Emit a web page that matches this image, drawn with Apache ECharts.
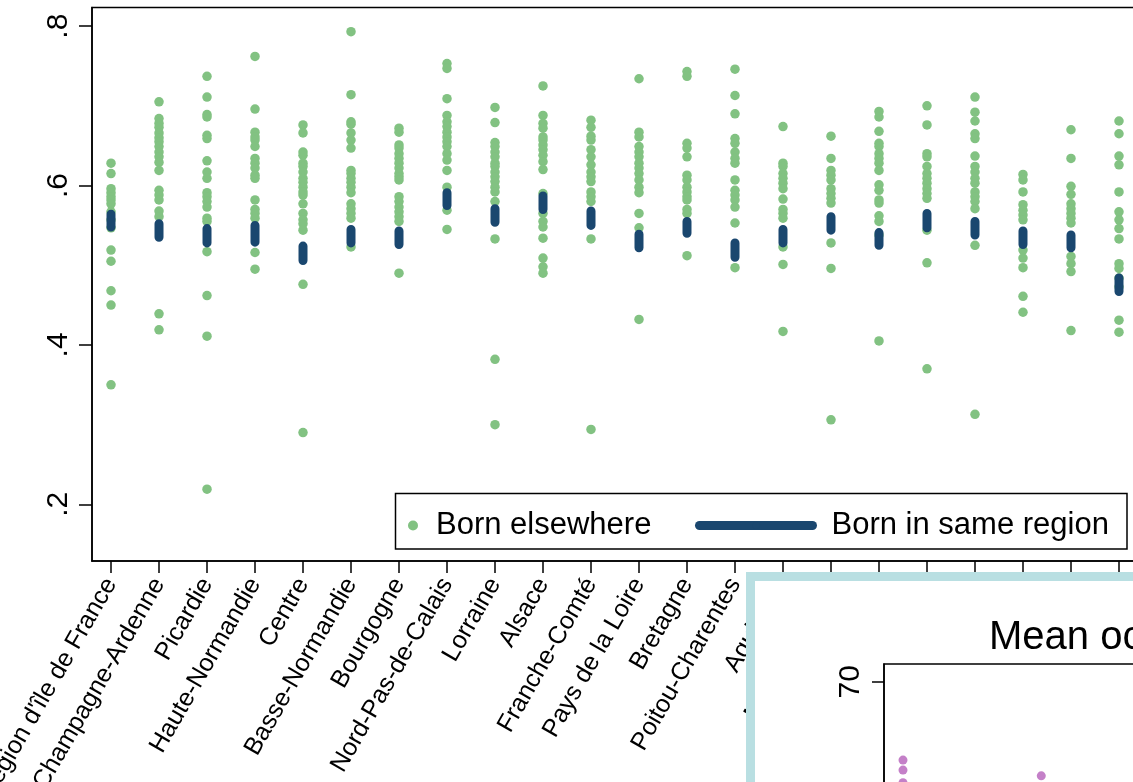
<!DOCTYPE html>
<html><head><meta charset="utf-8">
<script src="https://cdn.jsdelivr.net/npm/echarts@6/dist/echarts.min.js"></script>
<style>html,body{margin:0;padding:0;background:#fff}#c{width:1133px;height:782px}</style>
</head><body><div id="c"></div>
<script>
const regions = ["Région d'île de France","Champagne-Ardenne","Picardie","Haute-Normandie","Centre","Basse-Normandie","Bourgogne","Nord-Pas-de-Calais","Lorraine","Alsace","Franche-Comté","Pays de la Loire","Bretagne","Poitou-Charentes","Aquitaine","Midi-Pyrénées","Limousin","Rhône-Alpes","Auvergne","Languedoc-Roussillon","Provence-Alpes-Côte d'Azur","Corse"];
const bornElsewhere = [
 [0.628,0.615,0.596,0.591,0.586,0.582,0.577,0.567,0.557,0.547,0.519,0.505,0.468,0.450,0.350],
 [0.705,0.684,0.678,0.673,0.666,0.660,0.655,0.649,0.642,0.636,0.629,0.619,0.594,0.588,0.582,0.568,0.561,0.439,0.419],
 [0.737,0.711,0.689,0.686,0.663,0.659,0.631,0.617,0.609,0.591,0.586,0.580,0.573,0.559,0.555,0.517,0.462,0.411,0.219],
 [0.762,0.696,0.667,0.661,0.657,0.649,0.634,0.628,0.622,0.613,0.609,0.582,0.570,0.565,0.559,0.516,0.495],
 [0.676,0.666,0.642,0.638,0.628,0.624,0.617,0.609,0.604,0.598,0.592,0.588,0.577,0.565,0.557,0.552,0.544,0.476,0.290],
 [0.793,0.714,0.680,0.677,0.666,0.657,0.647,0.619,0.615,0.609,0.604,0.598,0.591,0.577,0.571,0.565,0.559,0.523],
 [0.672,0.667,0.651,0.647,0.640,0.634,0.628,0.622,0.615,0.611,0.607,0.586,0.580,0.573,0.567,0.561,0.555,0.490],
 [0.753,0.747,0.709,0.688,0.680,0.674,0.667,0.661,0.655,0.649,0.640,0.632,0.619,0.598,0.569,0.545],
 [0.698,0.679,0.654,0.649,0.642,0.636,0.628,0.624,0.617,0.611,0.605,0.598,0.592,0.580,0.533,0.382,0.300],
 [0.725,0.688,0.678,0.672,0.661,0.657,0.651,0.645,0.638,0.630,0.620,0.590,0.565,0.555,0.548,0.534,0.509,0.498,0.490],
 [0.682,0.673,0.662,0.657,0.645,0.636,0.626,0.617,0.611,0.605,0.592,0.586,0.580,0.533,0.294],
 [0.734,0.667,0.661,0.649,0.642,0.636,0.628,0.622,0.615,0.607,0.598,0.591,0.565,0.547,0.432],
 [0.743,0.737,0.653,0.647,0.636,0.613,0.607,0.598,0.592,0.586,0.582,0.570,0.565,0.512],
 [0.746,0.713,0.690,0.659,0.653,0.642,0.634,0.628,0.607,0.594,0.588,0.582,0.573,0.553,0.497],
 [0.674,0.628,0.624,0.615,0.609,0.603,0.596,0.583,0.570,0.565,0.559,0.523,0.501,0.417],
 [0.662,0.634,0.619,0.613,0.607,0.596,0.590,0.584,0.578,0.528,0.496,0.306],
 [0.693,0.686,0.668,0.653,0.649,0.640,0.634,0.628,0.619,0.601,0.594,0.582,0.578,0.562,0.555,0.538,0.405],
 [0.700,0.676,0.640,0.636,0.624,0.615,0.609,0.603,0.596,0.590,0.584,0.544,0.503,0.370],
 [0.711,0.692,0.681,0.665,0.659,0.637,0.624,0.617,0.609,0.603,0.592,0.586,0.580,0.571,0.525,0.313],
 [0.614,0.607,0.592,0.576,0.569,0.563,0.557,0.519,0.509,0.497,0.461,0.441],
 [0.670,0.634,0.599,0.589,0.577,0.571,0.565,0.559,0.553,0.511,0.502,0.492,0.418],
 [0.681,0.665,0.637,0.626,0.592,0.567,0.557,0.546,0.533,0.502,0.496,0.484,0.473,0.431,0.416]
];
const bornSameLow  = [0.548,0.535,0.528,0.529,0.506,0.528,0.526,0.575,0.554,0.570,0.550,0.522,0.540,0.510,0.528,0.544,0.525,0.547,0.538,0.526,0.522,0.467];
const bornSameHigh = [0.564,0.552,0.546,0.550,0.524,0.545,0.543,0.591,0.571,0.587,0.568,0.539,0.555,0.528,0.545,0.561,0.541,0.565,0.555,0.543,0.538,0.484];
const yTicks = [0.2,0.4,0.6,0.8];
const insetRegionIndex = [1,1,1,4];
const insetMeans = [64.78,64.11,63.27,63.73];
const insetYTicks = [50,60,70];

const FONT = '"Liberation Sans", Arial, Helvetica, sans-serif';
const regionIdx = regions.map((_, i) => i + 1);
const scatterData = [];
bornElsewhere.forEach((vals, i) => vals.forEach(v => scatterData.push([i + 1, v])));
const lineData = [];
bornSameLow.forEach((lo, i) => { lineData.push([i + 1, lo]); lineData.push([i + 1, bornSameHigh[i]]); lineData.push([i + 1, '-']); });
const insetData = insetMeans.map((v, i) => [insetRegionIndex[i], v]);

const chart = echarts.init(document.getElementById('c'), null, {renderer: 'canvas'});
chart.setOption({
  animation: false,
  backgroundColor: '#fff',
  textStyle: {fontFamily: FONT},
  title: [{
    text: 'Mean occupational prestige', left: 984, top: 613, z: 110,
    textStyle: {fontSize: 40, fontWeight: 'normal', color: '#000', fontFamily: FONT}
  }],
  grid: [
    {left: 92, top: 7.5, width: 1046, height: 553.5, show: true, borderColor: '#000', borderWidth: 1.5, backgroundColor: '#fff', outerBoundsMode: 'none'},
    {left: 884, top: 664, width: 1005, height: 468, show: true, borderColor: '#000', borderWidth: 1.5, backgroundColor: '#fff', z: 101, outerBoundsMode: 'none'}
  ],
  xAxis: [
    {gridIndex: 0, type: 'value', min: 0.604, max: 22.396,
     axisLine: {show: true, lineStyle: {color: '#000', width: 1.5}},
     axisTick: {show: true, customValues: regionIdx, length: 12, lineStyle: {color: '#000', width: 1.5}},
     axisLabel: {customValues: regionIdx, rotate: 60, margin: 19, fontSize: 25, color: '#000', fontFamily: FONT,
                 formatter: v => regions[Math.round(v) - 1]},
     splitLine: {show: false}},
    {gridIndex: 1, type: 'value', min: 0.588, max: 22.39, show: false, splitLine: {show: false}}
  ],
  yAxis: [
    {gridIndex: 0, type: 'value', min: 0.1289, max: 0.8234,
     axisLine: {show: true, lineStyle: {color: '#000', width: 1.5}},
     axisTick: {show: true, customValues: yTicks, length: 13, lineStyle: {color: '#000', width: 1.5}},
     axisLabel: {customValues: yTicks, rotate: 90, margin: 18, fontSize: 30, color: '#000', fontFamily: FONT,
                 formatter: v => '.' + Math.round(v * 10)},
     splitLine: {show: false}},
    {gridIndex: 1, type: 'value', min: 40, max: 71.18, z: 102,
     axisLine: {show: true, lineStyle: {color: '#000', width: 1.5}},
     axisTick: {show: true, customValues: insetYTicks, length: 12, lineStyle: {color: '#000', width: 1.5}},
     axisLabel: {customValues: insetYTicks, rotate: 90, margin: 18, fontSize: 30, color: '#000', fontFamily: FONT},
     splitLine: {show: false}}
  ],
  legend: [
    {data: ['Born elsewhere'], left: 408, top: 510, padding: 0, itemWidth: 36, itemHeight: 10, z: 6,
     textStyle: {fontSize: 31, color: '#000', fontFamily: FONT}},
    {data: ['Born in same region'], left: 695, top: 510, padding: 0, itemWidth: 113, itemHeight: 9, z: 6,
     lineStyle: {width: 9, cap: 'round'},
     textStyle: {fontSize: 31, color: '#000', fontFamily: FONT, padding: [0, 0, 0, 14]}}
  ],
  graphic: [
    {type: 'rect', z: 5, shape: {x: 395.5, y: 493.5, width: 731.5, height: 55.5},
     style: {fill: '#fff', stroke: '#000', lineWidth: 1.5}},
    {type: 'rect', z: 100, shape: {x: 750.5, y: 576.5, width: 500, height: 300},
     style: {fill: '#fff', stroke: '#b9dfe2', lineWidth: 9}}
  ],
  series: [
    {name: 'Born elsewhere', type: 'scatter', xAxisIndex: 0, yAxisIndex: 0, data: scatterData, symbol: 'circle', symbolSize: 9.5, z: 2,
     itemStyle: {color: '#82c282', opacity: 1, borderWidth: 0}},
    {name: 'Born in same region', type: 'line', xAxisIndex: 0, yAxisIndex: 0, data: lineData, symbol: 'none', showSymbol: false, connectNulls: false, z: 3,
     itemStyle: {color: '#1a476f'}, lineStyle: {color: '#1a476f', width: 9, cap: 'round'}},
    {name: 'Inset', type: 'scatter', xAxisIndex: 1, yAxisIndex: 1, data: insetData, symbol: 'circle', symbolSize: 9, z: 103,
     itemStyle: {color: '#c480c8', opacity: 1, borderWidth: 0}}
  ]
});
</script>
</body></html>
